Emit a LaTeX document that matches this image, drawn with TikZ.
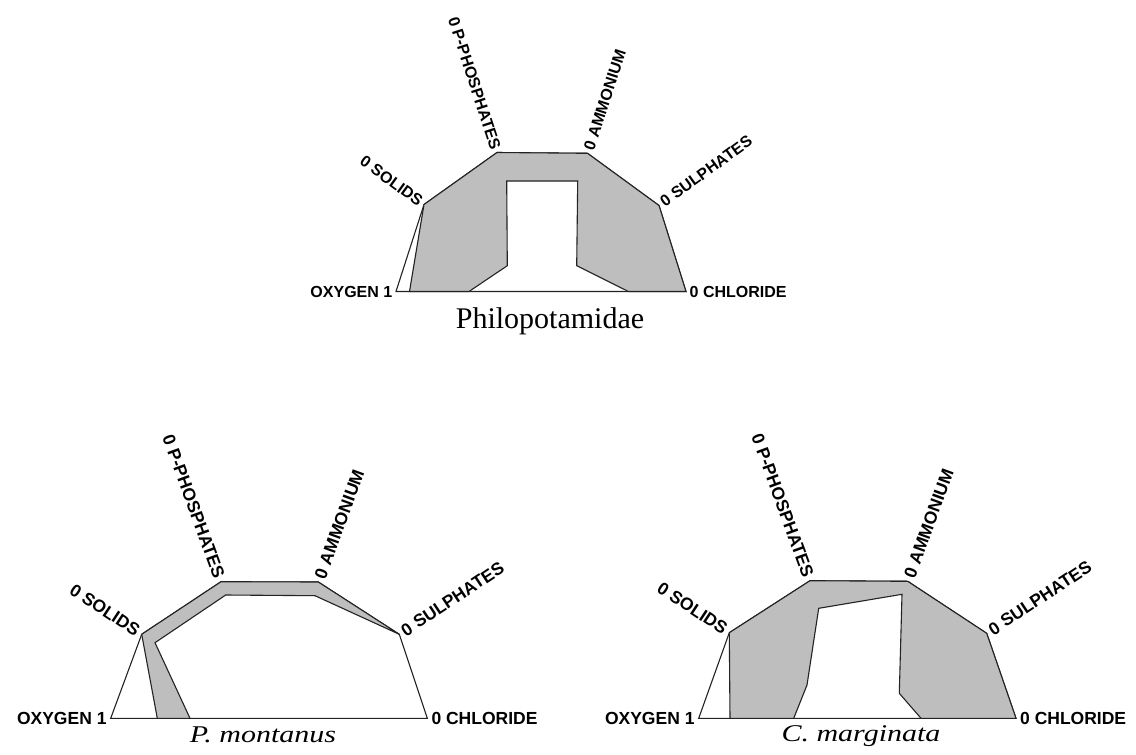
\documentclass[tikz,border=0pt]{standalone}
\usepackage{fontspec}
\usepackage{graphicx}
\setmainfont{Liberation Serif}
\newfontfamily\labfamily{Liberation Sans}
\definecolor{ringgray}{RGB}{190,190,190}
\definecolor{edge}{RGB}{35,35,35}
\tikzset{
  outline/.style={draw=edge, line width=1.1pt, line join=miter, fill=white},
  ring/.style={draw=edge, line width=1.1pt, line join=miter, fill=ringgray},
  labtop/.style={font=\labfamily\bfseries\fontsize{16}{18}\selectfont, inner sep=3.5pt, text=black},
  labbot/.style={font=\labfamily\bfseries\fontsize{17.5}{20}\selectfont, inner sep=4pt, text=black},
  title/.style={font=\fontsize{30}{34}\selectfont, inner sep=0pt, anchor=base, text=black}
}
\begin{document}
\begin{tikzpicture}[x=1pt,y=-1pt]
\useasboundingbox (0,0) rectangle (1136,755);
\fill[white] (0,0) rectangle (1136,755);

% ---------------- top chart: Philopotamidae ----------------
\coordinate (tO) at (396,291.5);
\coordinate (tS) at (424,204.5);
\coordinate (tP) at (497,152.5);
\coordinate (tA) at (587.5,153.3);
\coordinate (tU) at (659,205.5);
\coordinate (tC) at (686,291.5);
\draw[outline] (tO) -- (tS) -- (tP) -- (tA) -- (tU) -- (tC) -- cycle;
\draw[ring] (409.5,291.5) -- (tS) -- (tP) -- (tA) -- (tU) -- (tC) -- (628.5,291.5)
  -- (576.7,265.7) -- (577.7,181) -- (506.7,181) -- (507.3,265.7) -- (469,291.5) -- cycle;
\node[labtop, anchor=east] (tOl) at (tO) {OXYGEN 1};
\node[labtop, anchor=east, rotate=-36] (tSl) at (tS) {0 SOLIDS};
\node[labtop, anchor=east, rotate=-72] (tPl) at (tP) {0 P-PHOSPHATES};
\node[labtop, anchor=west, rotate=72] (tAl) at (tA) {0 AMMONIUM};
\node[labtop, anchor=west, rotate=36] (tUl) at (tU) {0 SULPHATES};
\node[labtop, anchor=west] (tCl) at (tC) {0 CHLORIDE};
\node[title] (tT) at (550,328) {Philopotamidae};

% ---------------- bottom left: P. montanus ----------------
\coordinate (lO) at (110.7,718.3);
\coordinate (lS) at (141.7,634.3);
\coordinate (lP) at (221,581.7);
\coordinate (lA) at (318.3,582);
\coordinate (lU) at (399.3,634.3);
\coordinate (lC) at (427.3,718.3);
\draw[outline] (lO) -- (lS) -- (lP) -- (lA) -- (lU) -- (lC) -- cycle;
\draw[ring] (157.3,718.3) -- (lS) -- (lP) -- (lA) -- (lU) -- (315,595.7)
  -- (225.7,595) -- (155,642.7) -- (190,718.3) -- cycle;
\node[labbot, anchor=east] (lOl) at (lO) {OXYGEN 1};
\node[labbot, anchor=east, rotate=-33.5] (lSl) at (lS) {0 SOLIDS};
\node[labbot, anchor=east, rotate=-70] (lPl) at (lP) {0 P-PHOSPHATES};
\node[labbot, anchor=west, rotate=70] (lAl) at (lA) {0 AMMONIUM};
\node[labbot, anchor=west, rotate=33.5] (lUl) at (lU) {0 SULPHATES};
\node[labbot, anchor=west] (lCl) at (lC) {0 CHLORIDE};
\node[title] (lT) at (263,742) {\scalebox{1}[0.8]{\itshape P. montanus}};

% ---------------- bottom right: C. marginata ----------------
\coordinate (rO) at (698.7,718.3);
\coordinate (rS) at (729.3,632.7);
\coordinate (rP) at (810,580.7);
\coordinate (rA) at (907.7,581.3);
\coordinate (rU) at (986.7,633.3);
\coordinate (rC) at (1016,718.3);
\draw[outline] (rO) -- (rS) -- (rP) -- (rA) -- (rU) -- (rC) -- cycle;
\draw[ring] (730,718.3) -- (rS) -- (rP) -- (rA) -- (rU) -- (rC) -- (921,718.3)
  -- (899.3,693.3) -- (902,594.3) -- (818.7,608.3) -- (807,685) -- (793.7,718.3) -- cycle;
\node[labbot, anchor=east] (rOl) at (rO) {OXYGEN 1};
\node[labbot, anchor=east, rotate=-33.5] (rSl) at (rS) {0 SOLIDS};
\node[labbot, anchor=east, rotate=-70] (rPl) at (rP) {0 P-PHOSPHATES};
\node[labbot, anchor=west, rotate=70] (rAl) at (rA) {0 AMMONIUM};
\node[labbot, anchor=west, rotate=33.5] (rUl) at (rU) {0 SULPHATES};
\node[labbot, anchor=west] (rCl) at (rC) {0 CHLORIDE};
\node[title] (rT) at (861,741) {\scalebox{1}[0.8]{\itshape C. marginata}};
\end{tikzpicture}
\end{document}
